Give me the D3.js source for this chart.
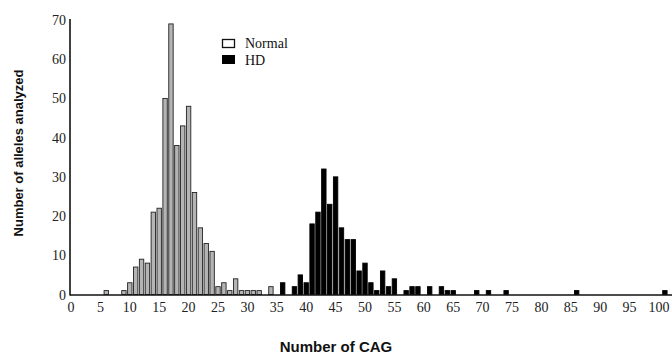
<!DOCTYPE html>
<meta charset="utf-8">
<style>
  body { margin: 0; background: #fff; }
  .tick-label { font: 14px "Liberation Serif", "Times New Roman", serif; fill: #222; }
  .axis-title { font-family: "Liberation Sans", Arial, sans-serif; font-weight: bold; fill: #111; }
  .legend-label { font: 14px "Liberation Serif", "Times New Roman", serif; fill: #111; }
</style>
<svg id="chart" width="672" height="354"></svg>
<script src="https://cdn.jsdelivr.net/npm/d3@7"></script>
<script>
// repeat counts
var normalCag   = [6, 9, 10, 11, 12, 13, 14, 15, 16, 17, 18, 19, 20, 21, 22, 23, 24, 25, 26, 27, 28, 29, 30, 31, 32, 34];
var normalCount = [1, 1, 3, 7, 9, 8, 21, 22, 50, 69, 38, 43, 48, 26, 17, 13, 11, 2, 3, 1, 4, 1, 1, 1, 1, 2];

var hdCag   = [36, 38, 39, 40, 41, 42, 43, 44, 45, 46, 47, 48, 49, 50, 51, 52, 53, 54, 55, 57, 58, 59, 61, 63, 64, 65, 69, 71, 74, 86, 101];
var hdCount = [3, 2, 5, 3, 18, 21, 32, 23, 30, 17, 14, 14, 6, 8, 3, 1, 6, 2, 4, 1, 2, 2, 2, 2, 1, 1, 1, 1, 1, 1, 1];

var xTicks = [0, 5, 10, 15, 20, 25, 30, 35, 40, 45, 50, 55, 60, 65, 70, 75, 80, 85, 90, 95, 100];
var yTicks = [0, 10, 20, 30, 40, 50, 60, 70];

var svg = d3.select("#chart");

var x = d3.scaleLinear().domain([0, 100]).range([71, 659]);
var y = d3.scaleLinear().domain([0, 70]).range([294.5, 20]);
var barW = 4.4;

function bars(cags, counts, cls, fill, stroke) {
    svg.append("g").selectAll("rect")
        .data(d3.zip(cags, counts))
        .enter().append("rect")
        .attr("class", cls)
        .attr("x", function (d) { return x(d[0]) - barW / 2; })
        .attr("y", function (d) { return y(d[1]); })
        .attr("width", barW)
        .attr("height", function (d) { return y(0) - y(d[1]); })
        .attr("fill", fill)
        .attr("stroke", stroke)
        .attr("stroke-width", 0.9);
}

bars(normalCag, normalCount, "normal", "#b4b4b4", "#222");
bars(hdCag, hdCount, "hd", "#000", "#000");

// axes lines
svg.append("line")
    .attr("x1", 70).attr("x2", 672)
    .attr("y1", y(0) + 0.5).attr("y2", y(0) + 0.5)
    .attr("stroke", "#111").attr("stroke-width", 1.6);
svg.append("line")
    .attr("x1", 70).attr("x2", 70)
    .attr("y1", y(70) - 1).attr("y2", y(0) + 1)
    .attr("stroke", "#111").attr("stroke-width", 1.6);

// tick labels
svg.append("g").selectAll("text")
    .data(xTicks)
    .enter().append("text")
    .attr("class", "tick-label")
    .attr("x", function (d) { return x(d); })
    .attr("y", 312)
    .attr("text-anchor", "middle")
    .text(function (d) { return d; });

svg.append("g").selectAll("text")
    .data(yTicks)
    .enter().append("text")
    .attr("class", "tick-label")
    .attr("x", 66)
    .attr("y", function (d) { return y(d) + 5; })
    .attr("text-anchor", "end")
    .text(function (d) { return d; });

// axis titles
svg.append("text")
    .attr("class", "axis-title")
    .attr("x", 336).attr("y", 352)
    .attr("text-anchor", "middle")
    .style("font-size", "15px")
    .text("Number of CAG");

svg.append("text")
    .attr("class", "axis-title")
    .attr("transform", "translate(23,153) rotate(-90)")
    .attr("text-anchor", "middle")
    .style("font-size", "13px")
    .text("Number of alleles analyzed");

// legend
var legend = svg.append("g").attr("transform", "translate(222,39)");
legend.append("rect").attr("x", 0.5).attr("y", 0.5).attr("width", 12).attr("height", 8)
    .attr("fill", "#fff").attr("stroke", "#111").attr("stroke-width", 1.3);
legend.append("text").attr("class", "legend-label").attr("x", 23).attr("y", 9).text("Normal");
legend.append("rect").attr("x", 0).attr("y", 16).attr("width", 13).attr("height", 9)
    .attr("fill", "#000");
legend.append("text").attr("class", "legend-label").attr("x", 23).attr("y", 26).text("HD");
</script>
